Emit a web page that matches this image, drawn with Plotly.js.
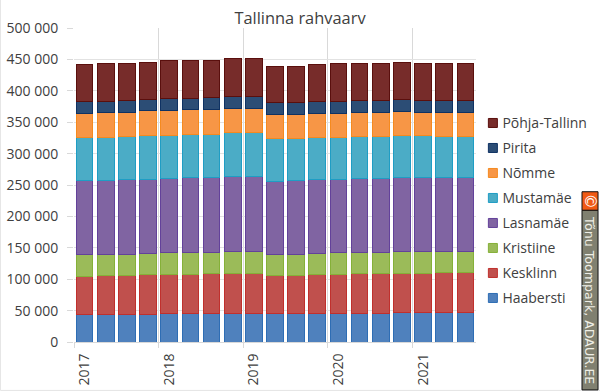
<!DOCTYPE html>
<html><head><meta charset="utf-8">
<script src="https://cdn.plot.ly/plotly-3.0.1.min.js"></script>
<style>html,body{margin:0;padding:0;background:#fff;overflow:hidden}
#c{width:600px;height:392px}</style></head><body><div id="c"></div>
<script>
const periods=["2017 K1","2017 K2","2017 K3","2017 K4","2018 K1","2018 K2","2018 K3","2018 K4","2019 K1","2019 K2","2019 K3","2019 K4","2020 K1","2020 K2","2020 K3","2020 K4","2021 K1","2021 K2","2021 K3"];
const yearLabels=["2017","2018","2019","2020","2021"];
const yearStart=[0,4,8,12,16];
const yearBoundary=[-0.5,3.5,7.5,11.5,15.5];
const haabersti=[44400,44400,44400,44400,45000,45000,45000,45000,45500,45000,45000,46000,46000,46000,46000,47100,47100,47100,47100];
const kesklinn=[60300,61900,61900,62400,63000,63000,64000,64500,64000,61400,61400,60800,61900,63000,63000,62400,62400,64000,64000];
const kristiine=[34400,32300,33300,34400,33900,34900,33900,34400,34900,33300,33300,34400,33900,33900,33900,34400,34400,32800,32800];
const lasnamae=[118000,118500,119000,118000,119000,118500,119000,120100,119600,116400,117400,117400,117400,118000,118000,118000,118000,118000,118000];
const mustamae=[68200,69300,68800,69300,68200,68800,69300,69300,69300,67700,66700,66700,67200,66700,66700,67700,66700,65600,65600];
const nomme=[38600,38600,38100,39700,39700,39700,38600,38100,38600,38100,38100,38100,37600,37600,37600,37000,37000,37600,37600];
const pirita=[18500,18500,18500,18500,19000,18500,19000,19000,19000,19000,19000,19000,18500,19000,19000,19000,19000,19600,19000];
const pohja=[59200,59200,59800,58700,59800,60300,59800,60300,60300,58200,58200,59200,60300,59800,59800,59800,59200,59200,58700];
const names=["Haabersti","Kesklinn","Kristiine","Lasnamäe","Mustamäe","Nõmme","Pirita","Põhja-Tallinn"];
const values=[haabersti,kesklinn,kristiine,lasnamae,mustamae,nomme,pirita,pohja];
const fills=["#4f81bd","#c0504d","#9bbb59","#8064a2","#4bacc6","#f79646","#2c4d75","#772c2a"];
const edges=["#2e6db4","#c0302d","#85b038","#63419a","#1f9dc4","#f58a1f","#0f3263","#5a0f0d"];
const W=600,H=392,L=74,R=475.6,T=27.5,B=342;
const px=x=>(x-L)/(R-L), py=y=>(B-y)/(B-T);
const font="'Open Sans',sans-serif", ink="#404040";
const idx=periods.map((_,i)=>i);
const bars=names.map((n,i)=>({type:'bar',name:n,x:idx,y:values[i],text:periods,hoverinfo:'text+y+name',textposition:'none',
  showlegend:false,marker:{color:fills[i],line:{color:edges[i],width:1}}}));
const keys=names.map((n,i)=>({type:'scatter',mode:'markers',name:n,x:[null],y:[null],legendgroup:n,
  marker:{symbol:'square',size:9,color:fills[i],line:{color:edges[i],width:1}}})).reverse();
const layout={width:W,height:H,margin:{l:L,r:W-R,t:T,b:H-B,pad:0,autoexpand:false},paper_bgcolor:'#fff',plot_bgcolor:'#fff',
  separators:', ',barmode:'stack',bargap:0.21,
  title:{text:'Tallinna rahvaarv',font:{family:font,size:16.4,color:ink},x:0.5,xref:'container',xanchor:'center',y:1-18/H,yanchor:'middle'},
  xaxis:{range:[-0.5,18.5],tickvals:yearStart,ticktext:yearLabels,tickangle:-90,ticks:'',showgrid:false,zeroline:false,
    showline:true,linecolor:'#d9d9d9',linewidth:1,ticklabelstandoff:5,tickfont:{family:font,size:14,color:ink},
    minor:{tickvals:yearBoundary,showgrid:true,gridcolor:'#d9d9d9',gridwidth:1,ticks:'outside',ticklen:5,tickcolor:'#d9d9d9',tickwidth:1}},
  yaxis:{range:[0,500000],tickvals:[0,50000,100000,150000,200000,250000,300000,350000,400000,450000,500000],tickformat:',d',
    ticks:'outside',ticklen:6,tickcolor:'#d9d9d9',tickwidth:1,gridcolor:'#e2e2e2',gridwidth:1,zeroline:false,showline:false,
    ticklabelstandoff:6,tickfont:{family:font,size:14,color:ink}},
  legend:{x:px(462),xref:'paper',y:py(107),yref:'paper',xanchor:'left',yanchor:'top',traceorder:'grouped',tracegroupgap:3.8,
    itemwidth:30,font:{family:font,size:14,color:ink},bgcolor:'rgba(0,0,0,0)',borderwidth:0},
  shapes:[
    {type:'rect',xref:'paper',yref:'paper',x0:px(0.5),x1:px(W+3),y0:py(390.5),y1:py(-3),line:{color:'#e4e4e4',width:1},fillcolor:'rgba(0,0,0,0)',layer:'below'},
    {type:'rect',xref:'paper',yref:'paper',x0:px(581.5),x1:px(597.5),y0:py(390),y1:py(210),line:{color:'#111',width:1},fillcolor:'#808070'},
    {type:'rect',xref:'paper',yref:'paper',x0:px(581.5),x1:px(597.5),y0:py(210),y1:py(191.5),line:{color:'#111',width:1},fillcolor:'#f05a14'}
  ],
  annotations:[
    {xref:'paper',yref:'paper',x:px(589.5),y:py(300),text:'Tõnu Toompark, ADAUR.EE',textangle:90,showarrow:false,xanchor:'center',yanchor:'middle',
      font:{family:"'DejaVu Sans',sans-serif",size:12.6,color:'#eeeee6'}},
    {xref:'paper',yref:'paper',x:px(589.5),y:py(200.5),text:'©',textangle:90,showarrow:false,xanchor:'center',yanchor:'middle',
      font:{family:"'DejaVu Sans',sans-serif",size:15,color:'#fff'}}
  ]};
const gd=document.getElementById('c');
function nudgeKeys(){gd.querySelectorAll('.legend .legendsymbols').forEach(s=>s.setAttribute('transform','translate(10.5,0)'));}
Plotly.newPlot(gd,bars.concat(keys),layout,{displayModeBar:false,responsive:false}).then(()=>{
  nudgeKeys();gd.on('plotly_afterplot',nudgeKeys);
});
</script></body></html>
